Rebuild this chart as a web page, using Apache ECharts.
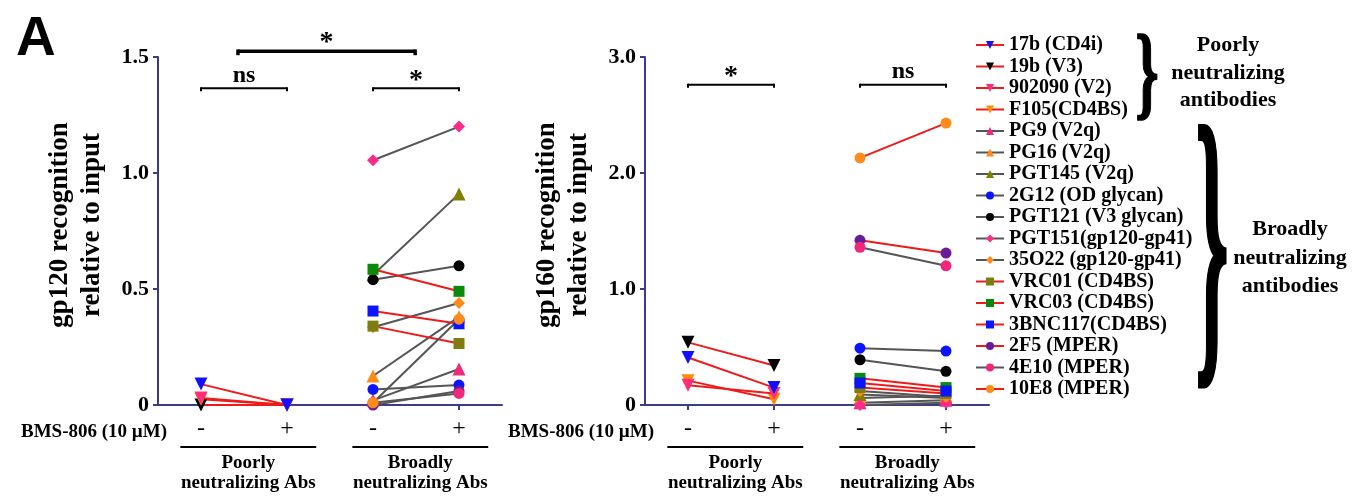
<!DOCTYPE html>
<html><head><meta charset="utf-8">
<script src="https://cdn.jsdelivr.net/npm/echarts@6/dist/echarts.min.js"></script>
<style>html,body{margin:0;padding:0;background:#fff}#c{width:1356px;height:496px}</style>
</head><body><div id="c"></div>
<script>
// ---------- data ----------
const xTicks = ['-', '+', '-', '+'];
const groupLabels = ['Poorly\nneutralizing Abs', 'Broadly\nneutralizing Abs'];
const antibodies = ['17b (CD4i)', '19b (V3)', '902090 (V2)', 'F105(CD4BS)', 'PG9 (V2q)', 'PG16 (V2q)', 'PGT145 (V2q)', '2G12 (OD glycan)', 'PGT121 (V3 glycan)', 'PGT151(gp120-gp41)', '35O22 (gp120-gp41)', 'VRC01 (CD4BS)', 'VRC03 (CD4BS)', '3BNC117(CD4BS)', '2F5 (MPER)', '4E10 (MPER)', '10E8 (MPER)'];
const abGroup = [0,0,0,0,1,1,1,1,1,1,1,1,1,1,1,1,1]; // 0 = poorly, 1 = broadly
const gp120Minus = [0.09, 0.0, 0.03, 0.025, 0.02, 0.125, 0.56, 0.067, 0.54, 1.055, 0.335, 0.34, 0.585, 0.405, 0.0, 0.01, 0.01];
const gp120Plus  = [0.0, 0.0, 0.0, 0.0, 0.155, 0.38, 0.91, 0.086, 0.60, 1.20, 0.44, 0.265, 0.49, 0.35, 0.06, 0.05, 0.37];
const gp160Minus = [0.41, 0.54, 0.17, 0.21, 0.02, 0.06, 0.09, 0.49, 0.39, 0.0, 0.12, 0.15, 0.23, 0.19, 1.42, 1.36, 2.13];
const gp160Plus  = [0.15, 0.34, 0.10, 0.05, 0.04, 0.08, 0.06, 0.465, 0.29, 0.02, 0.07, 0.10, 0.15, 0.12, 1.31, 1.20, 2.43];
const gp120Ticks = [0, 0.5, 1.0, 1.5];
const gp160Ticks = [0, 1.0, 2.0, 3.0];

// ---------- styles ----------
const RED = '#f01a1a', GRAY = '#555555', AX = '#3b3b8c';
const SERIF = '"Liberation Serif","Times New Roman",serif';
const symbols = ['triangle','triangle','triangle','triangle','triangle','triangle','triangle','circle','circle','diamond','diamond','rect','rect','rect','circle','circle','circle'];
const rotations = [180,180,180,180,0,0,0,0,0,0,0,0,0,0,0,0,0];
const sizes = [13,13,13,13,13,13,13,11,11,12,12,11,11,11,11,11,11];
const zs = [5,3,4,3,3,3,3,3,3,3,3,3,3,3,3,3,3];
const colors = ['#1010ff','#000000','#ff2d7a','#ff8c00','#ee2a7b','#ff8c1a','#808000','#0a14ff','#000000','#ff2a8a','#ff8c1a','#7d7d10','#0a8a0a','#0a14ff','#6a1b9a','#f0287d','#ff8c1a'];
const lineRight = [RED,RED,RED,RED,GRAY,GRAY,GRAY,GRAY,GRAY,GRAY,GRAY,RED,RED,RED,RED,GRAY,RED];
const lineLeft  = [RED,RED,RED,RED,GRAY,GRAY,GRAY,GRAY,GRAY,GRAY,GRAY,RED,RED,RED,GRAY,GRAY,GRAY];

const panels = [
  {grid: 1, minus: gp160Minus, plus: gp160Plus, lines: lineRight},
  {grid: 0, minus: gp120Minus, plus: gp120Plus, lines: lineLeft}
];
const series = [];
panels.forEach(p => {
  antibodies.forEach((name, i) => {
    const x0 = abGroup[i] * 2;
    series.push({
      type: 'line', name: name, xAxisIndex: p.grid, yAxisIndex: p.grid,
      data: [[x0, p.minus[i]], [x0 + 1, p.plus[i]]],
      symbol: symbols[i], symbolRotate: rotations[i], symbolSize: sizes[i],
      itemStyle: {color: colors[i]}, lineStyle: {color: p.lines[i], width: 2},
      emphasis: {disabled: true}, animation: false, z: zs[i]
    });
  });
});

function yAx(idx, max, interval, name) {
  return {
    type: 'value', gridIndex: idx, min: 0, max: max, interval: interval,
    axisLine: {show: true, lineStyle: {color: AX, width: 2}},
    axisTick: {show: true, length: 5, lineStyle: {color: AX, width: 2}},
    splitLine: {show: false},
    axisLabel: {color: '#000', fontFamily: SERIF, fontWeight: 'bold', fontSize: 22, margin: 9,
      formatter: v => v === 0 ? '0' : v.toFixed(1)},
    name: name, nameLocation: 'middle', nameGap: 50,
    nameTextStyle: {color: '#000', fontFamily: SERIF, fontWeight: 'bold', fontSize: 27, lineHeight: 32, padding: [0, 0, 0, 12]}
  };
}
function xAx(idx) {
  return {
    type: 'category', gridIndex: idx, data: ['a','b','c','d'], boundaryGap: true,
    axisLine: {show: true, lineStyle: {color: AX, width: 2}},
    axisTick: {show: true, alignWithLabel: true, length: 5, lineStyle: {color: AX, width: 2}},
    axisLabel: {color: '#000', fontFamily: SERIF, fontSize: 24, margin: 12, formatter: (v, i) => xTicks[i]}
  };
}

const option = {
  animation: false,
  backgroundColor: '#fff',
  grid: [
    {left: 158, top: 57, width: 344, height: 348},
    {left: 645, top: 57, width: 344, height: 348}
  ],
  xAxis: [xAx(0), xAx(1)],
  yAxis: [yAx(0, gp120Ticks[3], gp120Ticks[1], 'gp120 recognition\nrelative to input'),
          yAx(1, gp160Ticks[3], gp160Ticks[1], 'gp160 recognition\nrelative to input')],
  legend: {
    orient: 'vertical', left: 970, top: 30, itemWidth: 28, itemHeight: 10, itemGap: 1.5,
    selectedMode: false, data: antibodies,
    textStyle: {color: '#000', fontFamily: SERIF, fontWeight: 'bold', fontSize: 20, lineHeight: 18}
  },
  series: series
};

const chart = echarts.init(document.getElementById('c'), null, {renderer: 'canvas'});
chart.setOption(option);

function px(g, x, y) { return chart.convertToPixel({gridIndex: g}, [x, y]); }
function xAt(g, f) { // fractional category index -> pixel x
  const a = px(g, 0, 0)[0], b = px(g, 1, 0)[0];
  return a + f * (b - a);
}
const gr = [];
function txt(x, y, s, size, opts) {
  opts = opts || {};
  const st = {text: s, fill: '#000', font: (opts.weight || 'bold') + ' ' + size + 'px ' + (opts.family || SERIF),
      textAlign: opts.align || 'center', align: opts.align || 'center',
      textVerticalAlign: opts.valign || 'middle', verticalAlign: opts.valign || 'middle',
      lineHeight: opts.lh || size};
  if (opts.stroke) { st.stroke = '#000'; st.lineWidth = opts.stroke; }
  gr.push({type: 'text', x: x, y: y, rotation: opts.rotation || 0, scaleX: opts.sx || 1, scaleY: opts.sy || 1, z: 10, style: st});
}
function line(x1, y1, x2, y2, w) {
  gr.push({type: 'line', z: 10, shape: {x1: x1, y1: y1, x2: x2, y2: y2}, style: {stroke: '#000', lineWidth: w}});
}
function bracket(g, f0, f1, yVal, label, w, labelSize, drop) {
  const y = px(g, 0, yVal)[1];
  const xa = xAt(g, f0), xb = xAt(g, f1);
  line(xa, y, xb, y, w);
  line(xa, y - w / 2, xa, y + drop, w);
  line(xb, y - w / 2, xb, y + drop, w);
  txt((xa + xb) / 2, y - (label === '*' ? 8 : 13), label, labelSize, {});
}
// significance annotations
bracket(0, 0, 1, 1.365, 'ns', 2, 24, 3);
bracket(0, 2, 3, 1.365, '*', 2, 28, 3);
bracket(0, 0.43, 2.49, 1.525, '*', 3.5, 28, 4);
bracket(1, 0, 1, 2.76, '*', 2, 28, 3);
bracket(1, 2, 3, 2.76, 'ns', 2, 24, 3);

// group labels below x axes
[0, 1].forEach(g => {
  const y0 = px(g, 0, 0)[1];
  txt(px(g, 0, 0)[0] - 45 + 11, y0 + 27, 'BMS-806 (10 \u00b5M)', 19, {align: 'right'});
  [0, 1].forEach(k => {
    const xa = xAt(g, 2 * k - 0.24), xb = xAt(g, 2 * k + 1 + 0.34);
    line(xa, y0 + 42, xb, y0 + 42, 2);
    txt((xa + xb) / 2, y0 + 68, groupLabels[k], 19, {lh: 20});
  });
});

// panel letter
txt(16, 40, 'A', 55, {align: 'left', family: '"Liberation Sans",Arial,sans-serif'});

// braces and group names next to legend
txt(1147, 79, '}', 100, {sx: 0.6, sy: 1.03, stroke: 1.5});
txt(1228, 73, 'Poorly\nneutralizing\nantibodies', 22, {lh: 27.5});
txt(1212, 263, '}', 100, {sx: 0.85, sy: 3.15, stroke: 1.2});
txt(1290, 258, 'Broadly\nneutralizing\nantibodies', 22, {lh: 28.5});

chart.setOption({graphic: gr});
</script>
</body></html>
